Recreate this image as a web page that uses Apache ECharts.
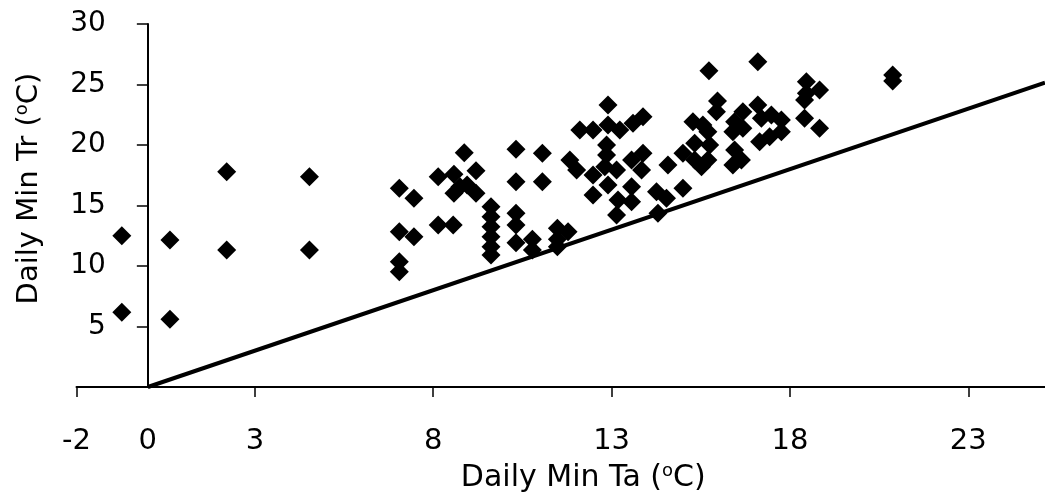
<!DOCTYPE html>
<html>
<head>
<meta charset="utf-8">
<script src="https://cdn.jsdelivr.net/npm/echarts@6/dist/echarts.min.js"></script>
<style>
html,body{margin:0;padding:0;background:#fff;}
#chart{width:1045px;height:504px;}
</style>
</head>
<body>
<div id="chart"></div>
<script>
// Daily Min Ta (x) vs Daily Min Tr (y)
const TA = [
  -0.73,-0.73,0.62,0.62,2.21,2.21,4.53,4.53,
  7.05,7.46,7.05,7.46,7.05,7.05,
  8.87,8.14,8.58,9.20,8.75,8.58,9.20,8.14,8.56,8.95,
  9.62,9.62,9.62,9.62,9.62,9.62,
  10.32,11.06,10.32,11.06,10.32,10.32,10.32,10.78,10.78,11.48,11.48,11.48,11.78,
  12.90,12.11,12.48,12.90,13.23,13.60,13.88,12.86,12.86,12.81,13.14,11.83,12.02,12.48,12.48,12.90,
  13.56,13.88,13.84,13.56,13.18,13.56,13.14,14.26,14.54,15.00,14.30,14.58,15.00,15.28,15.33,15.70,15.33,15.70,
  15.73,17.10,15.97,15.94,15.56,15.75,15.52,
  16.68,17.10,16.45,16.40,16.68,17.20,17.48,17.76,17.76,17.43,17.15,16.45,16.64,16.40,
  18.46,18.83,18.46,18.41,18.41,18.83,20.88,20.88
];
const TR = [
  12.50,6.17,12.15,5.59,17.79,11.32,17.38,11.32,
  16.42,15.60,12.83,12.42,10.35,9.52,
  19.36,17.38,17.58,17.88,16.55,16.01,16.01,13.39,13.39,16.69,
  14.90,14.07,13.25,12.42,11.60,10.91,
  19.64,19.31,16.97,16.97,14.36,13.39,11.93,12.21,11.32,13.12,12.21,11.60,12.83,
  23.31,21.24,21.24,21.65,21.24,21.79,22.34,20.00,19.17,18.21,17.93,18.76,17.93,17.52,15.87,16.69,
  18.76,19.31,17.93,16.55,15.45,15.31,14.21,16.14,15.60,16.42,14.36,18.35,19.31,21.93,20.14,21.10,18.76,18.76,
  26.14,26.88,23.64,22.75,21.65,20.00,18.20,
  22.75,23.31,21.93,21.10,21.38,22.21,22.48,22.07,21.10,20.69,20.27,19.59,18.76,18.35,
  25.23,24.55,24.27,23.72,22.21,21.38,25.79,25.29
];
// 1:1 reference line
const LINE_X = [0, 25.15];
const LINE_Y = [0, 25.15];
// axis ticks / labels
const X_TICKS = [-2, 3, 8, 13, 18, 23];
const X_LABELS = [-2, 0, 3, 8, 13, 18, 23];
const Y_TICKS = [5, 10, 15, 20, 25, 30];
const Y_LABELS = [5, 10, 15, 20, 25, 30];
const X_MIN = -2, X_MAX = 25.15, Y_MIN = 0, Y_MAX = 30;
const Y_AXIS_AT = 0; // the y axis crosses the x axis at Ta = 0
const X_NAME = '{t|Daily Min Ta (}{sup|o}{t|C)}';
const Y_NAME = '{t|Daily Min Tr (}{sup|o}{t|C)}';

const FONT = 'DejaVu Sans';
const W = 1045, GRID_LEFT = 76.5, GRID_RIGHT = 0;
const gridW = W - GRID_LEFT - GRID_RIGHT;
// shift the y axis (line, ticks, labels, name) to Ta = 0
const yOffset = -((Y_AXIS_AT - X_MIN) / (X_MAX - X_MIN)) * gridW;
function richFor(size) {
  return {
    t: {fontFamily: FONT, fontSize: size, lineHeight: 34, color: '#000', verticalAlign: 'bottom'},
    sup: {fontFamily: FONT, fontSize: 18, lineHeight: 18, color: '#000', verticalAlign: 'bottom', padding: [0, 0, 13, 0]}
  };
}

const chart = echarts.init(document.getElementById('chart'), null, {renderer: 'canvas'});
chart.setOption({
  animation: false,
  backgroundColor: '#ffffff',
  grid: {left: GRID_LEFT, right: GRID_RIGHT, top: 24, bottom: 117, containLabel: false, outerBoundsMode: 'none'},
  xAxis: {
    type: 'value', min: X_MIN, max: X_MAX,
    name: X_NAME, nameLocation: 'middle', nameGap: 72,
    nameTextStyle: {fontFamily: FONT, fontSize: 30, color: '#000', padding: [0, 0, 0, 45], rich: richFor(30)},
    axisLine: {show: true, onZero: false, lineStyle: {color: '#000', width: 2}},
    axisTick: {show: true, inside: false, length: 10, customValues: X_TICKS, lineStyle: {color: '#000', width: 1.5}},
    axisLabel: {show: true, customValues: X_LABELS, margin: 40, fontFamily: FONT, fontSize: 29, color: '#000'},
    splitLine: {show: false}
  },
  yAxis: {
    type: 'value', min: Y_MIN, max: Y_MAX,
    offset: yOffset,
    name: Y_NAME, nameLocation: 'middle', nameGap: 104,
    nameTextStyle: {fontFamily: FONT, fontSize: 29, color: '#000', padding: [0, 0, 0, 34], rich: richFor(29)},
    axisLine: {show: true, onZero: false, lineStyle: {color: '#000', width: 2}},
    axisTick: {show: true, inside: false, length: 11, customValues: Y_TICKS, lineStyle: {color: '#000', width: 1.5}},
    axisLabel: {show: true, customValues: Y_LABELS, margin: 42, fontFamily: FONT, fontSize: 28, color: '#000'},
    splitLine: {show: false}
  },
  series: [
    {
      type: 'line',
      data: LINE_X.map((x, i) => [x, LINE_Y[i]]),
      showSymbol: false, symbol: 'none',
      lineStyle: {color: '#000', width: 4},
      z: 2
    },
    {
      type: 'scatter',
      data: TA.map((x, i) => [x, TR[i]]),
      symbol: 'diamond', symbolSize: 19,
      itemStyle: {color: '#000', opacity: 1},
      z: 3
    }
  ]
});
</script>
</body>
</html>
